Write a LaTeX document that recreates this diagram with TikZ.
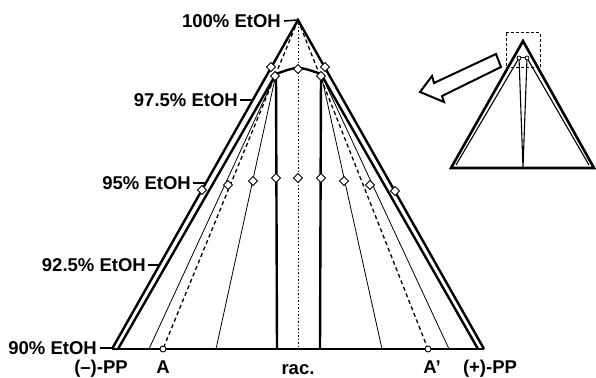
\documentclass[tikz,border=0pt]{standalone}
\usepackage{fontspec}
\setmainfont{Liberation Sans}
\usetikzlibrary{shapes.geometric}
\begin{document}
\begin{tikzpicture}[x=1pt,y=-1pt,
 thickl/.style={line width=2.4pt},
 thinl/.style={line width=0.8pt},
 dashl/.style={line width=1.3pt, dash pattern=on 4pt off 3pt},
 dotl/.style={line width=1pt, dash pattern=on 1.5pt off 2pt},
 dia/.style={diamond, draw, fill=white, line width=0.9pt, minimum size=9.5pt, inner sep=0pt},
 lab/.style={font=\fontsize{18.5}{21}\selectfont\bfseries, inner sep=0pt},
 ticks/.style={line width=1.6pt},
 circ/.style={circle, draw, fill=white, line width=0.9pt, minimum size=6pt, inner sep=0pt}]
\useasboundingbox (0,0) rectangle (596,377);
% main coordinates
\coordinate (T) at (298,20);
\coordinate (LO) at (112,349);
\coordinate (RO) at (484,349);
\coordinate (VL) at (276,74);
\coordinate (VR) at (321,74);
\coordinate (LI) at (118,349);
\coordinate (RI) at (478,349);
\coordinate (LT1) at (149,349);
\coordinate (LT2) at (216,349);
\coordinate (RT1) at (449,349);
\coordinate (RT2) at (382,349);
\coordinate (LV) at (277,349);
\coordinate (RV) at (320,349);
\coordinate (C) at (298,349);
% lines
\draw[thinl] (VL) -- (LT1);
\draw[thinl] (VL) -- (LT2);
\draw[thinl] (VR) -- (RT1);
\draw[thinl] (VR) -- (RT2);
\draw[dotl] (T) -- (C);
\draw[thickl] (VL) -- (LV);
\draw[thickl] (VR) -- (RV);
\draw[thickl] (VL) -- (LI);
\draw[thickl] (VR) -- (RI);
\draw[thickl] (VL) .. controls (298,66) .. (VR);
\draw[thickl] (LO) -- (T) -- (RO);
\draw[thickl] (LO) -- (RO);
\node[circ] (A) at (163,349) {};
\node[circ] (Ap) at (428,349) {};
\draw[dashl] (T) -- (A);
\draw[dashl] (T) -- (Ap);
% diamonds at 95% level
\node[dia] (d1) at (202,190) {};
\node[dia] (d2) at (228,185) {};
\node[dia] (d3) at (253,181) {};
\node[dia] (d4) at (276,178) {};
\node[dia] (d5) at (298,178) {};
\node[dia] (d6) at (321,178) {};
\node[dia] (d7) at (344,181) {};
\node[dia] (d8) at (370,185) {};
\node[dia] (d9) at (395,191) {};
% top diamonds
\node[dia] (u1) at (271,67) {};
\node[dia] (u2) at (275,76) {};
\node[dia] (u3) at (298,69) {};
\node[dia] (u4) at (321,76) {};
\node[dia] (u5) at (325,67) {};
% level labels
\coordinate (k100) at (298,20);
\coordinate (k975) at (253,100);
\coordinate (k95) at (206,183);
\coordinate (k925) at (160,265);
\coordinate (k90) at (112,348);
\node[lab, anchor=east] (l100) at (281,21) {100\% EtOH};
\node[lab, anchor=east] (l975) at (238,100) {97.5\% EtOH};
\node[lab, anchor=east] (l95) at (191,183) {95\% EtOH};
\node[lab, anchor=east] (l925) at (146,265) {92.5\% EtOH};
\node[lab, anchor=east] (l90) at (97,348) {90\% EtOH};
\draw[ticks] (l100.east) ++(3,0) -- (k100);
\draw[ticks] (l975.east) ++(2,0) -- (k975);
\draw[ticks] (l95.east) ++(2,0) -- (k95);
\draw[ticks] (l925.east) ++(2,0) -- (k925);
\draw[ticks] (l90.east) ++(3,0) -- (k90);
% bottom labels
\node[lab, anchor=base] (mPP) at (101,373) {(–)-PP};
\node[lab, anchor=base] (lA) at (163,373) {A};
\node[lab, anchor=base] (rac) at (298,374) {rac.};
\node[lab, anchor=base] (lAp) at (432,373) {A’};
\node[lab, anchor=base] (pPP) at (490,373) {(+)-PP};
% inset
\coordinate (IT) at (523,41);
\coordinate (IL) at (451,168);
\coordinate (IR) at (594,168);
\coordinate (IB) at (523,168);
\coordinate (IL2) at (456,165);
\coordinate (IR2) at (589,165);
\draw[line width=1.1pt] (519,58) -- (IL2);
\draw[line width=1.1pt] (527,58) -- (IR2);
\draw[line width=1.1pt] (519,58) -- (IB) -- (527,58);
\draw[line width=1pt] (519,58) -- (527,58);
\draw[line width=2.6pt, line join=miter] (IL) -- (IT) -- (IR) -- cycle;
\node[circle, draw, fill=white, line width=0.8pt, minimum size=4pt, inner sep=0pt] (ic1) at (519,58) {};
\node[circle, draw, fill=white, line width=0.8pt, minimum size=4pt, inner sep=0pt] (ic2) at (527,58) {};
\draw[line width=1pt, dash pattern=on 3pt off 2pt] (506,33) rectangle (540,68);
% big hollow arrow
\draw[line width=2pt, fill=white, line join=miter]
  (496,54) -- (501,67) -- (442,96) -- (444,102) -- (420,92) -- (432,76) -- (434,83) -- cycle;
\end{tikzpicture}
\end{document}
